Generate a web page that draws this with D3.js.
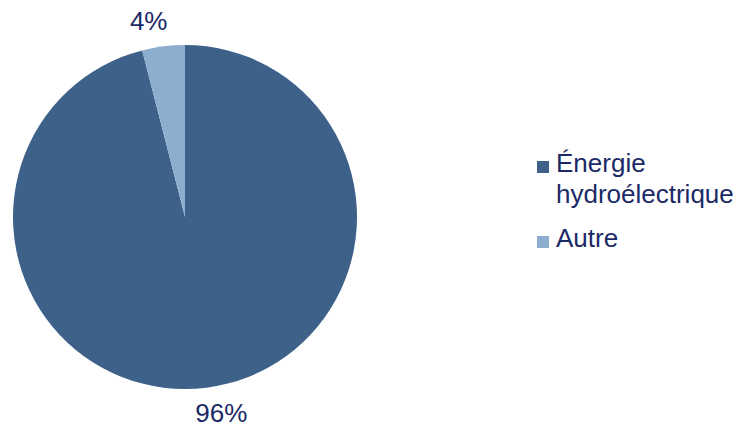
<!DOCTYPE html>
<html><head><meta charset="utf-8">
<script src="https://cdn.jsdelivr.net/npm/d3@7"></script>
<style>body{margin:0;background:#fff}svg{display:block}</style>
</head><body>
<svg id="c" width="742" height="427"></svg>
<script>
const categories = ["Énergie hydroélectrique", "Autre"];
const values = [96, 4];
const labels = ["96%", "4%"];
const colors = ["#3d6189", "#8eaed0"];

const svg = d3.select("#c");
const cx = 185, cy = 217, r = 172;
const g = svg.append("g").attr("transform", `translate(${cx},${cy})`);
const pie = d3.pie().sort(null).value(d => d).startAngle(0).endAngle(2 * Math.PI);
const arcs = pie(values);
const arc = d3.arc().innerRadius(0).outerRadius(r);
g.selectAll("path").data(arcs).enter().append("path")
  .attr("d", arc).attr("fill", (d, i) => colors[i]);

const font = "'Liberation Sans', Arial, sans-serif";
const textColor = "#1b2a66";
const mid = d => (d.startAngle + d.endAngle) / 2;
g.selectAll("text.lbl").data(arcs).enter().append("text")
  .attr("class", "lbl")
  .attr("x", d => Math.sin(mid(d)) * (r + 22) + Math.sign(Math.sin(mid(d))) * 12)
  .attr("y", d => -Math.cos(mid(d)) * (r + 26) + 9)
  .attr("text-anchor", "middle")
  .attr("font-family", font).attr("font-size", 26).attr("fill", textColor)
  .text((d, i) => labels[i]);

const legend = svg.append("g").attr("transform", "translate(537,0)");
const legendLines = [["Énergie", "hydroélectrique"], ["Autre"]];
const legendY = [172, 247];
legendLines.forEach((lines, i) => {
  legend.append("rect").attr("x", 0).attr("y", legendY[i] - 11).attr("width", 12).attr("height", 12)
    .attr("fill", colors[i]);
  const t = legend.append("text").attr("x", 19).attr("y", legendY[i])
    .attr("font-family", font).attr("font-size", 26).attr("fill", textColor);
  lines.forEach((s, j) => t.append("tspan").attr("x", 19).attr("dy", j === 0 ? 0 : 31).text(s));
});
</script>
</body></html>
